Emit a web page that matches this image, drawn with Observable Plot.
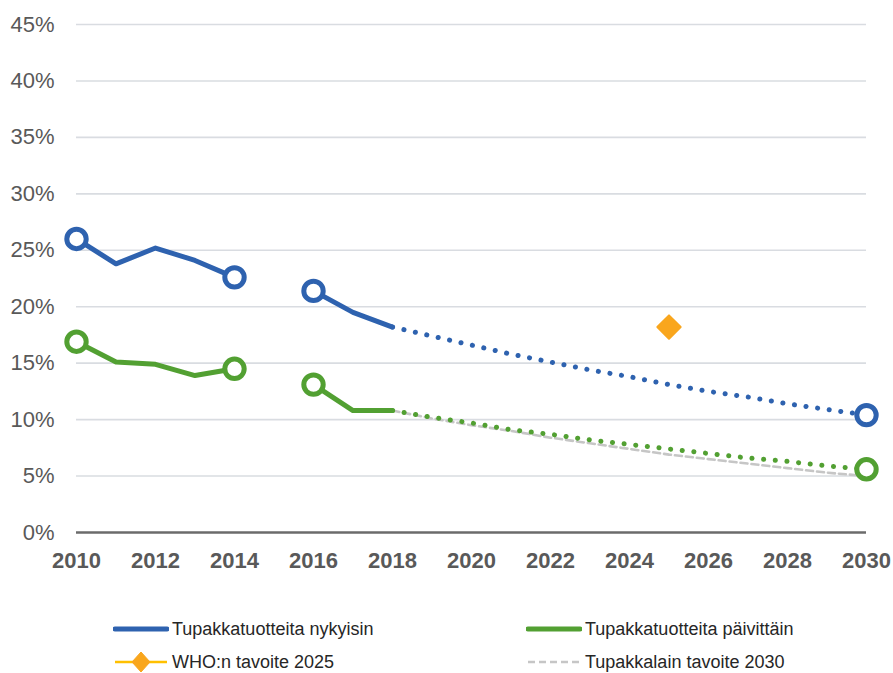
<!DOCTYPE html>
<html>
<head>
<meta charset="utf-8">
<script src="https://cdn.jsdelivr.net/npm/d3@7"></script>
<script src="https://cdn.jsdelivr.net/npm/@observablehq/plot@0.6"></script>
<style>
  html, body { margin: 0; padding: 0; background: #fff; }
  #wrap { position: relative; width: 893px; height: 673px; font-family: "Liberation Sans", Arial, sans-serif; }
  .leg { position: absolute; display: flex; align-items: center; height: 20px; font-size: 18px; color: #262626; white-space: nowrap; }
  .leg svg { display: block; margin-right: 3px; }
</style>
</head>
<body>
<div id="wrap"></div>
<script>
// ---- data ----
const obsYears   = [2010, 2011, 2012, 2013, 2014, 2016, 2017, 2018];
const nykyisin   = [26.0, 23.8, 25.2, 24.1, 22.6, 21.4, 19.5, 18.2];
const paivittain = [16.9, 15.1, 14.9, 13.9, 14.5, 13.1, 10.8, 10.8];

const projYears      = [2018, 2019, 2020, 2021, 2022, 2023, 2024, 2025, 2026, 2027, 2028, 2029, 2030];
const nykyisinProj   = [18.2, 17.4, 16.6, 15.8, 15.1, 14.4, 13.8, 13.1, 12.5, 12.0, 11.4, 10.9, 10.4];
const paivittainProj = [10.8, 10.2, 9.7, 9.1, 8.7, 8.2, 7.8, 7.4, 7.0, 6.6, 6.3, 5.9, 5.6];
const tavoite2030    = [10.8, 10.1, 9.5, 9.0, 8.4, 7.9, 7.4, 6.9, 6.5, 6.1, 5.7, 5.3, 5.0];

const whoYears  = [2025];
const whoValues = [18.2];

const markerYears = [2010, 2014, 2016, 2030];
const xTicks = [2010, 2012, 2014, 2016, 2018, 2020, 2022, 2024, 2026, 2028, 2030];
const yTicks = [0, 5, 10, 15, 20, 25, 30, 35, 40, 45];

const seriesNames = ["Tupakkatuotteita nykyisin", "Tupakkatuotteita päivittäin", "WHO:n tavoite 2025", "Tupakkalain tavoite 2030"];

// ---- styles ----
const BLUE = "#2E62AF", GREEN = "#52A032", ORANGE = "#F9A61D", YELLOW = "#FFC000", GRAY = "#C6C6C6";

// ---- tables ----
const obs = obsYears.map((year, i) => ({year, nyk: nykyisin[i], pai: paivittain[i], seg: year < 2015 ? "a" : "b"}));
const proj = projYears.map((year, i) => ({year, nyk: nykyisinProj[i], pai: paivittainProj[i], goal: tavoite2030[i]}));
const all = [...obs, ...proj.slice(1)];
const markers = markerYears.map(y => all.find(d => d.year === y));
const who = whoYears.map((year, i) => ({year, value: whoValues[i]}));

const chart = Plot.plot({
  width: 893,
  height: 595,
  marginLeft: 76,
  marginRight: 27,
  marginTop: 24,
  marginBottom: 63,
  style: {fontFamily: "'Liberation Sans', Arial, sans-serif", background: "#fff"},
  x: {domain: [2010, 2030]},
  y: {domain: [0, 45]},
  marks: [
    Plot.gridY(yTicks.filter(d => d > 0), {stroke: "#D9DCE1", strokeOpacity: 1, strokeWidth: 1.6}),
    Plot.ruleY([0], {stroke: "#6B6B6B", strokeWidth: 2.6}),
    Plot.axisY(yTicks, {tickSize: 0, tickPadding: 22, tickFormat: d => d + "%", fontSize: 22, fill: "#595959", label: null}),
    Plot.axisX(xTicks, {tickSize: 0, tickPadding: 20, tickFormat: d => String(d), fontSize: 22, fontWeight: "bold", fill: "#595959", label: null}),
    Plot.line(proj, {x: "year", y: "goal", stroke: GRAY, strokeWidth: 2.6, strokeDasharray: "7 4"}),
    Plot.line(proj, {x: "year", y: "pai", stroke: GREEN, strokeWidth: 5, strokeDasharray: "0.1 11.6", strokeLinecap: "round"}),
    Plot.line(proj, {x: "year", y: "nyk", stroke: BLUE, strokeWidth: 5, strokeDasharray: "0.1 11.6", strokeLinecap: "round"}),
    Plot.line(obs, {x: "year", y: "nyk", z: "seg", stroke: BLUE, strokeWidth: 5, strokeLinejoin: "round"}),
    Plot.line(obs, {x: "year", y: "pai", z: "seg", stroke: GREEN, strokeWidth: 5, strokeLinejoin: "round"}),
    Plot.dot(markers, {x: "year", y: "nyk", r: 9.7, fill: "#fff", stroke: BLUE, strokeWidth: 5}),
    Plot.dot(markers, {x: "year", y: "pai", r: 9.7, fill: "#fff", stroke: GREEN, strokeWidth: 5}),
    Plot.dot(who, {x: "year", y: "value", symbol: "diamond2", r: 10.5, fill: ORANGE, stroke: ORANGE, strokeWidth: 2, strokeLinejoin: "round"})
  ]
});

const wrap = document.getElementById("wrap");
wrap.appendChild(chart);

// ---- legend (below the chart) ----
function sample(kind) {
  const ns = "http://www.w3.org/2000/svg";
  const s = document.createElementNS(ns, "svg");
  s.setAttribute("width", 56); s.setAttribute("height", 22);
  const line = document.createElementNS(ns, "line");
  line.setAttribute("x1", 2); line.setAttribute("x2", 54);
  line.setAttribute("y1", 11); line.setAttribute("y2", 11);
  if (kind === 0 || kind === 1) {
    line.setAttribute("stroke", kind === 0 ? BLUE : GREEN);
    line.setAttribute("stroke-width", 5);
    line.setAttribute("stroke-linecap", "round");
    s.appendChild(line);
  } else if (kind === 2) {
    line.setAttribute("stroke", YELLOW);
    line.setAttribute("stroke-width", 2.5);
    s.appendChild(line);
    const p = document.createElementNS(ns, "path");
    p.setAttribute("d", "M28,1 L37,11 L28,21 L19,11 Z");
    p.setAttribute("fill", ORANGE);
    p.setAttribute("stroke", ORANGE);
    p.setAttribute("stroke-linejoin", "round");
    s.appendChild(p);
  } else {
    line.setAttribute("stroke", GRAY);
    line.setAttribute("stroke-width", 2.5);
    line.setAttribute("stroke-dasharray", "7 4");
    s.appendChild(line);
  }
  return s;
}
const legPos = [[113, 619], [526, 619], [113, 652], [526, 652]];
seriesNames.forEach((name, i) => {
  const d = document.createElement("div");
  d.className = "leg";
  d.style.left = legPos[i][0] + "px";
  d.style.top = legPos[i][1] + "px";
  d.appendChild(sample(i));
  const t = document.createElement("span");
  t.textContent = name;
  d.appendChild(t);
  wrap.appendChild(d);
});
</script>
</body>
</html>
